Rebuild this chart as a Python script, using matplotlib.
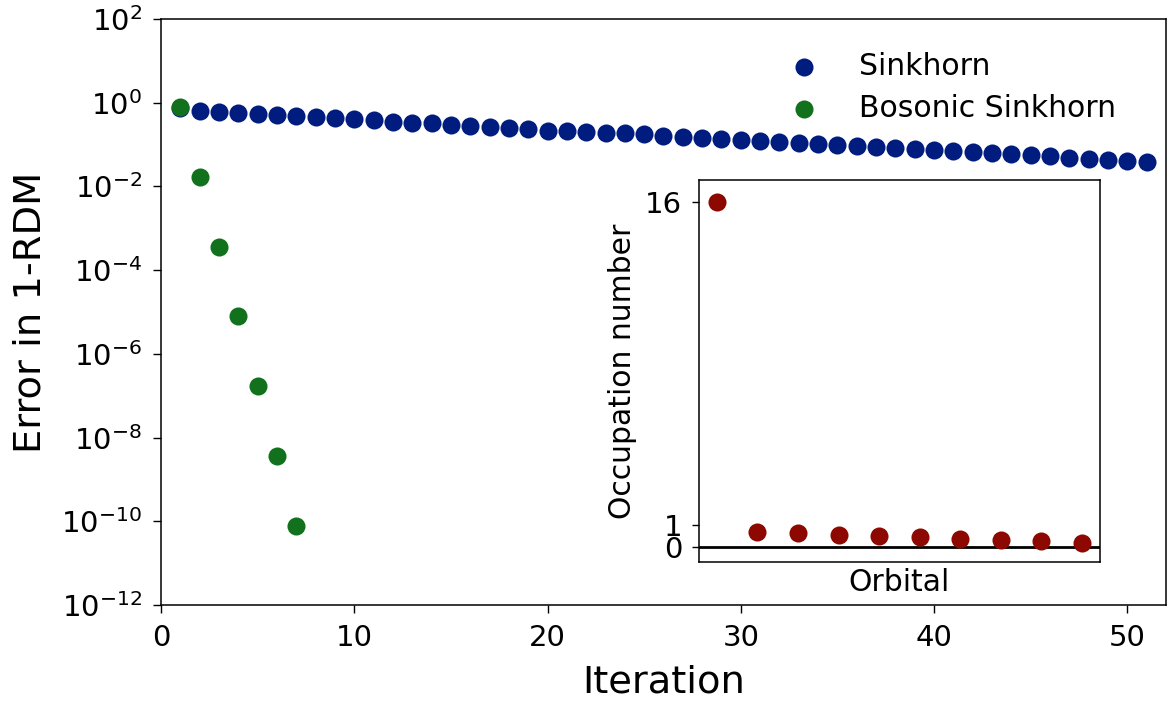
import matplotlib
matplotlib.use("Agg")
import matplotlib.pyplot as plt
import matplotlib.ticker as mticker

# ---- data ----
iterations = list(range(1, 52))
sinkhorn_err = [0.75, 0.633, 0.616, 0.558, 0.543, 0.508, 0.489, 0.448, 0.424, 0.401,
                0.386, 0.352, 0.333, 0.322, 0.293, 0.277, 0.267, 0.253, 0.232, 0.214,
                0.211, 0.203, 0.192, 0.186, 0.176, 0.163, 0.154, 0.146, 0.137, 0.130,
                0.123, 0.116, 0.110, 0.103, 0.0976, 0.0924, 0.0869, 0.0822, 0.0774, 0.0733,
                0.0694, 0.0653, 0.0618, 0.0582, 0.0551, 0.0521, 0.0491, 0.0465, 0.0438, 0.0414,
                0.0390]
bosonic_iter = [1, 2, 3, 4, 5, 6, 7]
bosonic_err = [0.78, 0.0171, 3.63e-4, 7.9e-6, 1.71e-7, 3.6e-9, 7.85e-11]

orbitals = list(range(10))
occupation = [16.0, 0.70, 0.62, 0.56, 0.50, 0.43, 0.37, 0.31, 0.25, 0.19]

blue = "#001c7f"
green = "#12711c"
red = "#8c0800"

fig = plt.figure(figsize=(11.67, 7.02), dpi=100)
ax = fig.add_axes([0.138, 0.1382, 0.8611, 0.8347])

ax.scatter(iterations, sinkhorn_err, s=169, color=blue, label="Sinkhorn", zorder=2, linewidths=0)
ax.scatter(bosonic_iter, bosonic_err, s=169, color=green, label="Bosonic Sinkhorn", zorder=3, linewidths=0)
ax.set_yscale("log")
ax.set_ylim(1e-12, 1e2)
ax.set_xlim(0, 52)
ax.yaxis.set_major_locator(mticker.FixedLocator([10.0**k for k in range(-12, 3, 2)]))
ax.yaxis.set_major_formatter(mticker.LogFormatterSciNotation())
ax.yaxis.set_minor_locator(mticker.NullLocator())
ax.set_xticks([0, 10, 20, 30, 40, 50])
ax.tick_params(labelsize=21, width=1.0, length=5.5, pad=8)
for s in ax.spines.values():
    s.set_linewidth(1.1)
ax.set_xlabel("Iteration", fontsize=27.7, labelpad=9)
ax.set_ylabel("Error in 1-RDM", fontsize=27.7, labelpad=9)
ax.legend(frameon=False, fontsize=21.5, loc="upper right", bbox_to_anchor=(0.977, 0.99),
          scatterpoints=1, handletextpad=0.85, labelspacing=0.45)

ins = fig.add_axes([0.5987, 0.1994, 0.3441, 0.5442])
ins.scatter(orbitals, occupation, s=169, color=red, zorder=3, linewidths=0)
ins.axhline(0, color="black", lw=2, zorder=2)
ins.set_xlim(-0.45, 9.45)
ins.set_ylim(-0.71, 17.02)
ins.set_xticks([])
ins.set_yticks([0, 1, 16])
ins.tick_params(labelsize=21, width=1.0, length=5, pad=7)
for s in ins.spines.values():
    s.set_linewidth(1.1)
ins.set_xlabel("Orbital", fontsize=21.5, labelpad=4)
ins.set_ylabel("Occupation number", fontsize=21.5, labelpad=6)

fig.savefig("out.png", dpi=100)
